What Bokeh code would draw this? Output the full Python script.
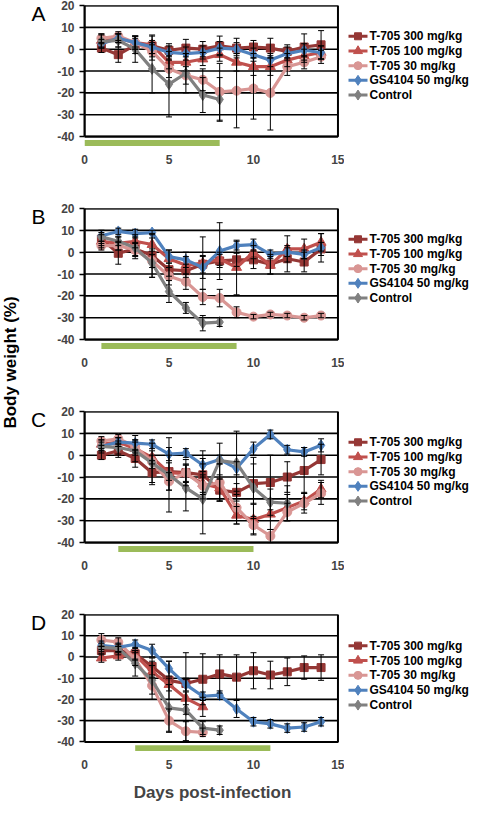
import math
from bokeh.plotting import figure
from bokeh.models import (Range1d, FixedTicker, Whisker, TeeHead, ColumnDataSource)
from bokeh.core.properties import value
from bokeh.layouts import row, column
from bokeh.embed import file_html
from bokeh.resources import INLINE

# ---------------- data ----------------
days = list(range(1, 15))
series_names = ["T-705 300 mg/kg", "T-705 100 mg/kg", "T-705 30 mg/kg", "GS4104 50 mg/kg", "Control"]
panel_letters = ["A", "B", "C", "D"]
treatment_start = [0, 1, 2, 3]
treatment_end = [8, 9, 10, 11]
x_ticks = [0, 5, 10, 15]
y_ticks = [-40, -30, -20, -10, 0, 10, 20]

# Panel A
A_T300 = [0.5, -2.5, 2, 1.5, -0.5, 0.5, 0, 1.5, 0.5, 1, 0.5, -1, 1, 2]
A_T100 = [4, 5, 3, 2, -6, -6, -4.5, -2.5, -6, -8, -8, -5, -3, -1.5]
A_T30 = [5, 6, 3, -1, -9, -12, -14, -19.5, -19, -18, -20, -8, -6, -3.5]
A_GS = [2.5, 5, 3, 1, -1.5, -2, -1.5, 0.5, 0, -2.5, -5, -2, -0.5, -1.5]
A_Ctrl = [3.5, 4, 0, -9, -16, -11, -21, -23]
A_T300_err = [2, 3.5, 4, 5, 3, 4, 3.5, 4.5, 4.5, 3, 4.5, 3, 6, 6.5]
A_T100_err = [3, 2, 3, 4, 3, 4, 3, 3, 4, 4, 4, 3, 3, 3]
A_T30_err = [2, 2, 3, 4, 4, 4, 5, 13, 17, 14, 17, 4, 3, 3]
A_GS_err = [2, 2, 2, 3, 3, 3, 3, 3, 3, 3, 3, 3, 3, 3]
A_Ctrl_err = [3, 3, 6, 11, 15, 9, 8, 10]

# Panel B
B_T300 = [6, -0.5, 1.5, -1.5, -8, -8.5, -5.5, -4, -3.5, -3.5, -5.5, -3, -4.5, 1.5]
B_T100 = [5, 4, 5, 3.5, -3, -6, -5, -3, -7, 0, -6, 1.5, 1.5, 4.5]
B_T30 = [3, 3, 1, -4, -11, -13.5, -20.5, -21, -27.5, -29.5, -28.5, -29, -30, -29]
B_GS = [7.5, 9.5, 8.5, 9, -2, -3.5, -7, 0.5, 3, 3.5, -1, 0, -1, 2]
B_Ctrl = [7, 5, 2, -5, -18, -25.5, -32.5, -32]
B_T300_err = [3, 5, 3, 10, 3, 3, 4, 3, 3, 4, 4.5, 6, 4.5, 3]
B_T100_err = [3, 3, 3, 3, 4, 4, 12, 3, 12.5, 3, 4, 6, 4.5, 4]
B_T30_err = [2, 2, 3, 3, 4, 3.5, 3.5, 4, 2.5, 1, 1, 1, 1, 1]
B_GS_err = [2.5, 1.5, 2, 1, 3, 3.5, 5, 13, 2, 2.5, 2, 2, 2, 6.5]
B_Ctrl_err = [3, 2, 5, 6.5, 5, 2.5, 3.5, 2]

# Panel C
C_T300 = [0, 2, -1.5, -8, -7.5, -8, -9, -16, -17, -13, -12.5, -10, -7, -2]
C_T100 = [5, 6, 3, -1, -8, -8.5, -13, -15, -27.5, -29.5, -27, -24, -21, -15.5]
C_T30 = [6.5, 7.5, 4, -3, -12, -8, -14, -12.5, -24, -32, -37, -26, -22, -17.5]
C_GS = [4, 6, 5.5, 5, 0.5, 1, -4.5, -2, -6, 3, 9.5, 2.5, 1.5, 4.5]
C_Ctrl = [4, 3.5, 2, -3.5, -9, -15, -20, -2.5, -3.5, -15, -21.5, -22]
C_T300_err = [2, 3, 4, 5.5, 4, 4, 11, 5, 4, 9, 12.5, 7, 10.5, 7]
C_T100_err = [2, 2, 3, 3, 8, 4, 4, 6, 4, 7, 7, 6, 4, 4]
C_T30_err = [2, 2, 3, 3, 4, 6, 4, 8.5, 7.5, 4, 3, 4, 4.5, 5]
C_GS_err = [2, 2, 3.5, 2, 3, 2, 3, 2, 3, 3, 2, 2, 2, 3]
C_Ctrl_err = [3, 3, 5, 9, 17, 10.5, 16, 8, 14.5, 14, 6, 8]

# Panel D
D_T300 = [3, 3, 1.5, -4.5, -11, -12.5, -10.5, -8, -9.5, -6.5, -8.5, -7, -5, -5]
D_T100 = [-0.5, 0.5, 1, -7, -13, -19.5, -23.5]
D_T30 = [8, 7, -1, -13.5, -30, -35, -35.5]
D_GS = [5.5, 4.5, 6, 3, -5.5, -13, -18.5, -18, -24.5, -30.5, -31.5, -33.5, -33, -30.5]
D_Ctrl = [4.5, 4, -3, -11, -24, -25, -33.5, -34.5]
D_T300_err = [2, 2, 3, 4, 9, 14.5, 12, 9, 10.5, 8.5, 6.5, 6.5, 5.5, 6]
D_T100_err = [2, 2, 2, 3, 3, 3, 4.5]
D_T30_err = [3, 2, 3, 4, 5.5, 4.5, 2]
D_GS_err = [2, 2, 2, 3, 3.5, 3, 2, 2, 4, 2, 2, 2, 2, 2]
D_Ctrl_err = [2, 2, 6, 9, 11, 14.5, 3, 2]

panel_values = [
    [A_T300, A_T100, A_T30, A_GS, A_Ctrl],
    [B_T300, B_T100, B_T30, B_GS, B_Ctrl],
    [C_T300, C_T100, C_T30, C_GS, C_Ctrl],
    [D_T300, D_T100, D_T30, D_GS, D_Ctrl],
]
panel_errors = [
    [A_T300_err, A_T100_err, A_T30_err, A_GS_err, A_Ctrl_err],
    [B_T300_err, B_T100_err, B_T30_err, B_GS_err, B_Ctrl_err],
    [C_T300_err, C_T100_err, C_T30_err, C_GS_err, C_Ctrl_err],
    [D_T300_err, D_T100_err, D_T30_err, D_GS_err, D_Ctrl_err],
]

# ---------------- styles / layout ----------------
FONT = "Liberation Sans"
colors = ["#953735", "#C0504D", "#D99694", "#4F81BD", "#808080"]
markers = ["square", "triangle", "circle", "diamond", "diamond"]
msizes = [8, 10, 9, 11, 11]
leg_msizes = [7, 9, 8, 10, 10]
BAR_COLOR = "#9BBB59"

LEFT_W = 54          # left strip (y label + panel letters)
BORDER_L = 28
FRAME_W = 258
BORDER_R = 4
PANEL_W = BORDER_L + FRAME_W + BORDER_R
LEGEND_W = 131       # total width 54 + 290 + 131 = 475
FRAME_H = 142
TOP = 5
heights = [203, 203, 203, 195]   # total 804
bottoms = [h - TOP - FRAME_H for h in heights]
TOTAL_H = sum(heights)
X_END = 15.15        # pad so the box's right edge stays inside the frame


def make_panel(idx, xlabel=None):
    p = figure(width=PANEL_W, height=heights[idx],
               x_range=Range1d(0, X_END), y_range=Range1d(-45, 20),
               output_backend="svg", toolbar_location=None,
               min_border_left=BORDER_L, min_border_right=BORDER_R,
               min_border_top=TOP, min_border_bottom=bottoms[idx])
    p.outline_line_color = None

    p.yaxis.ticker = FixedTicker(ticks=y_ticks)
    p.yaxis.bounds = (-40, 20)
    p.yaxis.major_label_overrides = {t: str(t) for t in y_ticks}
    p.yaxis.axis_line_width = 2
    p.yaxis.axis_line_color = "black"
    p.yaxis.major_tick_out = 5
    p.yaxis.major_tick_in = 0
    p.yaxis.major_tick_line_width = 1.5
    p.yaxis.minor_tick_line_color = None
    p.yaxis.major_label_standoff = 5
    p.yaxis.major_label_text_font = FONT
    p.yaxis.major_label_text_font_style = "bold"
    p.yaxis.major_label_text_font_size = "12px"

    p.xaxis.ticker = FixedTicker(ticks=x_ticks)
    p.xaxis.axis_line_color = None
    p.xaxis.major_tick_line_color = None
    p.xaxis.minor_tick_line_color = None
    p.xaxis.major_label_standoff = 1
    p.xaxis.major_label_text_font = FONT
    p.xaxis.major_label_text_font_style = "bold"
    p.xaxis.major_label_text_font_size = "12px"
    if xlabel:
        p.xaxis.axis_label = xlabel
        p.xaxis.axis_label_text_font = FONT
        p.xaxis.axis_label_text_font_style = "bold"
        p.xaxis.axis_label_text_font_size = "17px"
        p.xaxis.axis_label_standoff = 11

    p.xgrid.visible = False
    p.ygrid.visible = False

    # plot box and horizontal gridlines drawn as glyphs (x from first to last tick)
    p.multi_line(xs=[[x_ticks[0], x_ticks[-1]] for _ in y_ticks],
                 ys=[[t, t] for t in y_ticks], line_color="black", line_width=1.6)
    p.quad(left=[x_ticks[0]], right=[x_ticks[-1]], bottom=[y_ticks[0]], top=[y_ticks[-1]],
           fill_color=None, line_color="black", line_width=2)

    # treatment period bar (below the -40 line)
    p.hbar(y=[-42.95], height=2.7, left=[treatment_start[idx]], right=[treatment_end[idx]],
           color=BAR_COLOR, line_color=None)

    for s in range(5):
        vals = panel_values[idx][s]
        errs = panel_errors[idx][s]
        xs = days[:len(vals)]
        src = ColumnDataSource(dict(x=xs,
                                    upper=[v + e for v, e in zip(vals, errs)],
                                    lower=[v - e for v, e in zip(vals, errs)]))
        p.add_layout(Whisker(base="x", upper="upper", lower="lower", source=src,
                             level="glyph", line_color="black", line_width=1,
                             upper_head=TeeHead(size=6, line_color="black", line_width=1),
                             lower_head=TeeHead(size=6, line_color="black", line_width=1)))

    for s in range(5):
        vals = panel_values[idx][s]
        xs = days[:len(vals)]
        p.line(xs, vals, line_color=colors[s], line_width=3.2)
        p.scatter(xs, vals, marker=markers[s], size=msizes[s],
                  fill_color=colors[s], line_color=colors[s])
    return p


def make_legend(idx):
    h = heights[idx]
    lg = figure(width=LEGEND_W, height=h, x_range=Range1d(0, LEGEND_W), y_range=Range1d(h, 0),
                x_axis_type=None, y_axis_type=None, min_border=0,
                output_backend="svg", toolbar_location=None)
    lg.outline_line_color = None
    lg.grid.visible = False
    ys = [TOP + 123 - 21 * (4 - i) for i in range(5)]
    for i in range(5):
        lg.line([4, 23], [ys[i], ys[i]], line_color=colors[i], line_width=3)
        lg.scatter([13.5], [ys[i]], marker=markers[i], size=leg_msizes[i],
                   fill_color=colors[i], line_color=colors[i])
    lg.text(x=[25] * 5, y=ys, text=series_names, text_font=value(FONT),
            text_font_style="bold", text_font_size="12px", text_baseline="middle",
            text_color="black")
    return lg


def make_left():
    lf = figure(width=LEFT_W, height=TOTAL_H, x_range=Range1d(0, LEFT_W),
                y_range=Range1d(TOTAL_H, 0),
                x_axis_type=None, y_axis_type=None, min_border=0,
                output_backend="svg", toolbar_location=None)
    lf.outline_line_color = None
    lf.grid.visible = False
    tops = [sum(heights[:i]) + TOP + 8 for i in range(4)]
    lf.text(x=[38] * 4, y=tops, text=panel_letters, text_font=value(FONT),
            text_font_size="21px", text_align="center", text_baseline="middle",
            text_color="black")
    lf.text(x=[10], y=[362], text=["Body weight (%)"], angle=math.pi / 2,
            text_font=value(FONT), text_font_style="bold", text_font_size="17px",
            text_align="center", text_baseline="middle", text_color="black")
    return lf


panels = [make_panel(i, xlabel="Days post-infection" if i == 3 else None) for i in range(4)]
legends = [make_legend(i) for i in range(4)]
layout = row(make_left(), column(*[row(panels[i], legends[i]) for i in range(4)]))
open("out.html", "w").write(file_html(layout, INLINE))
